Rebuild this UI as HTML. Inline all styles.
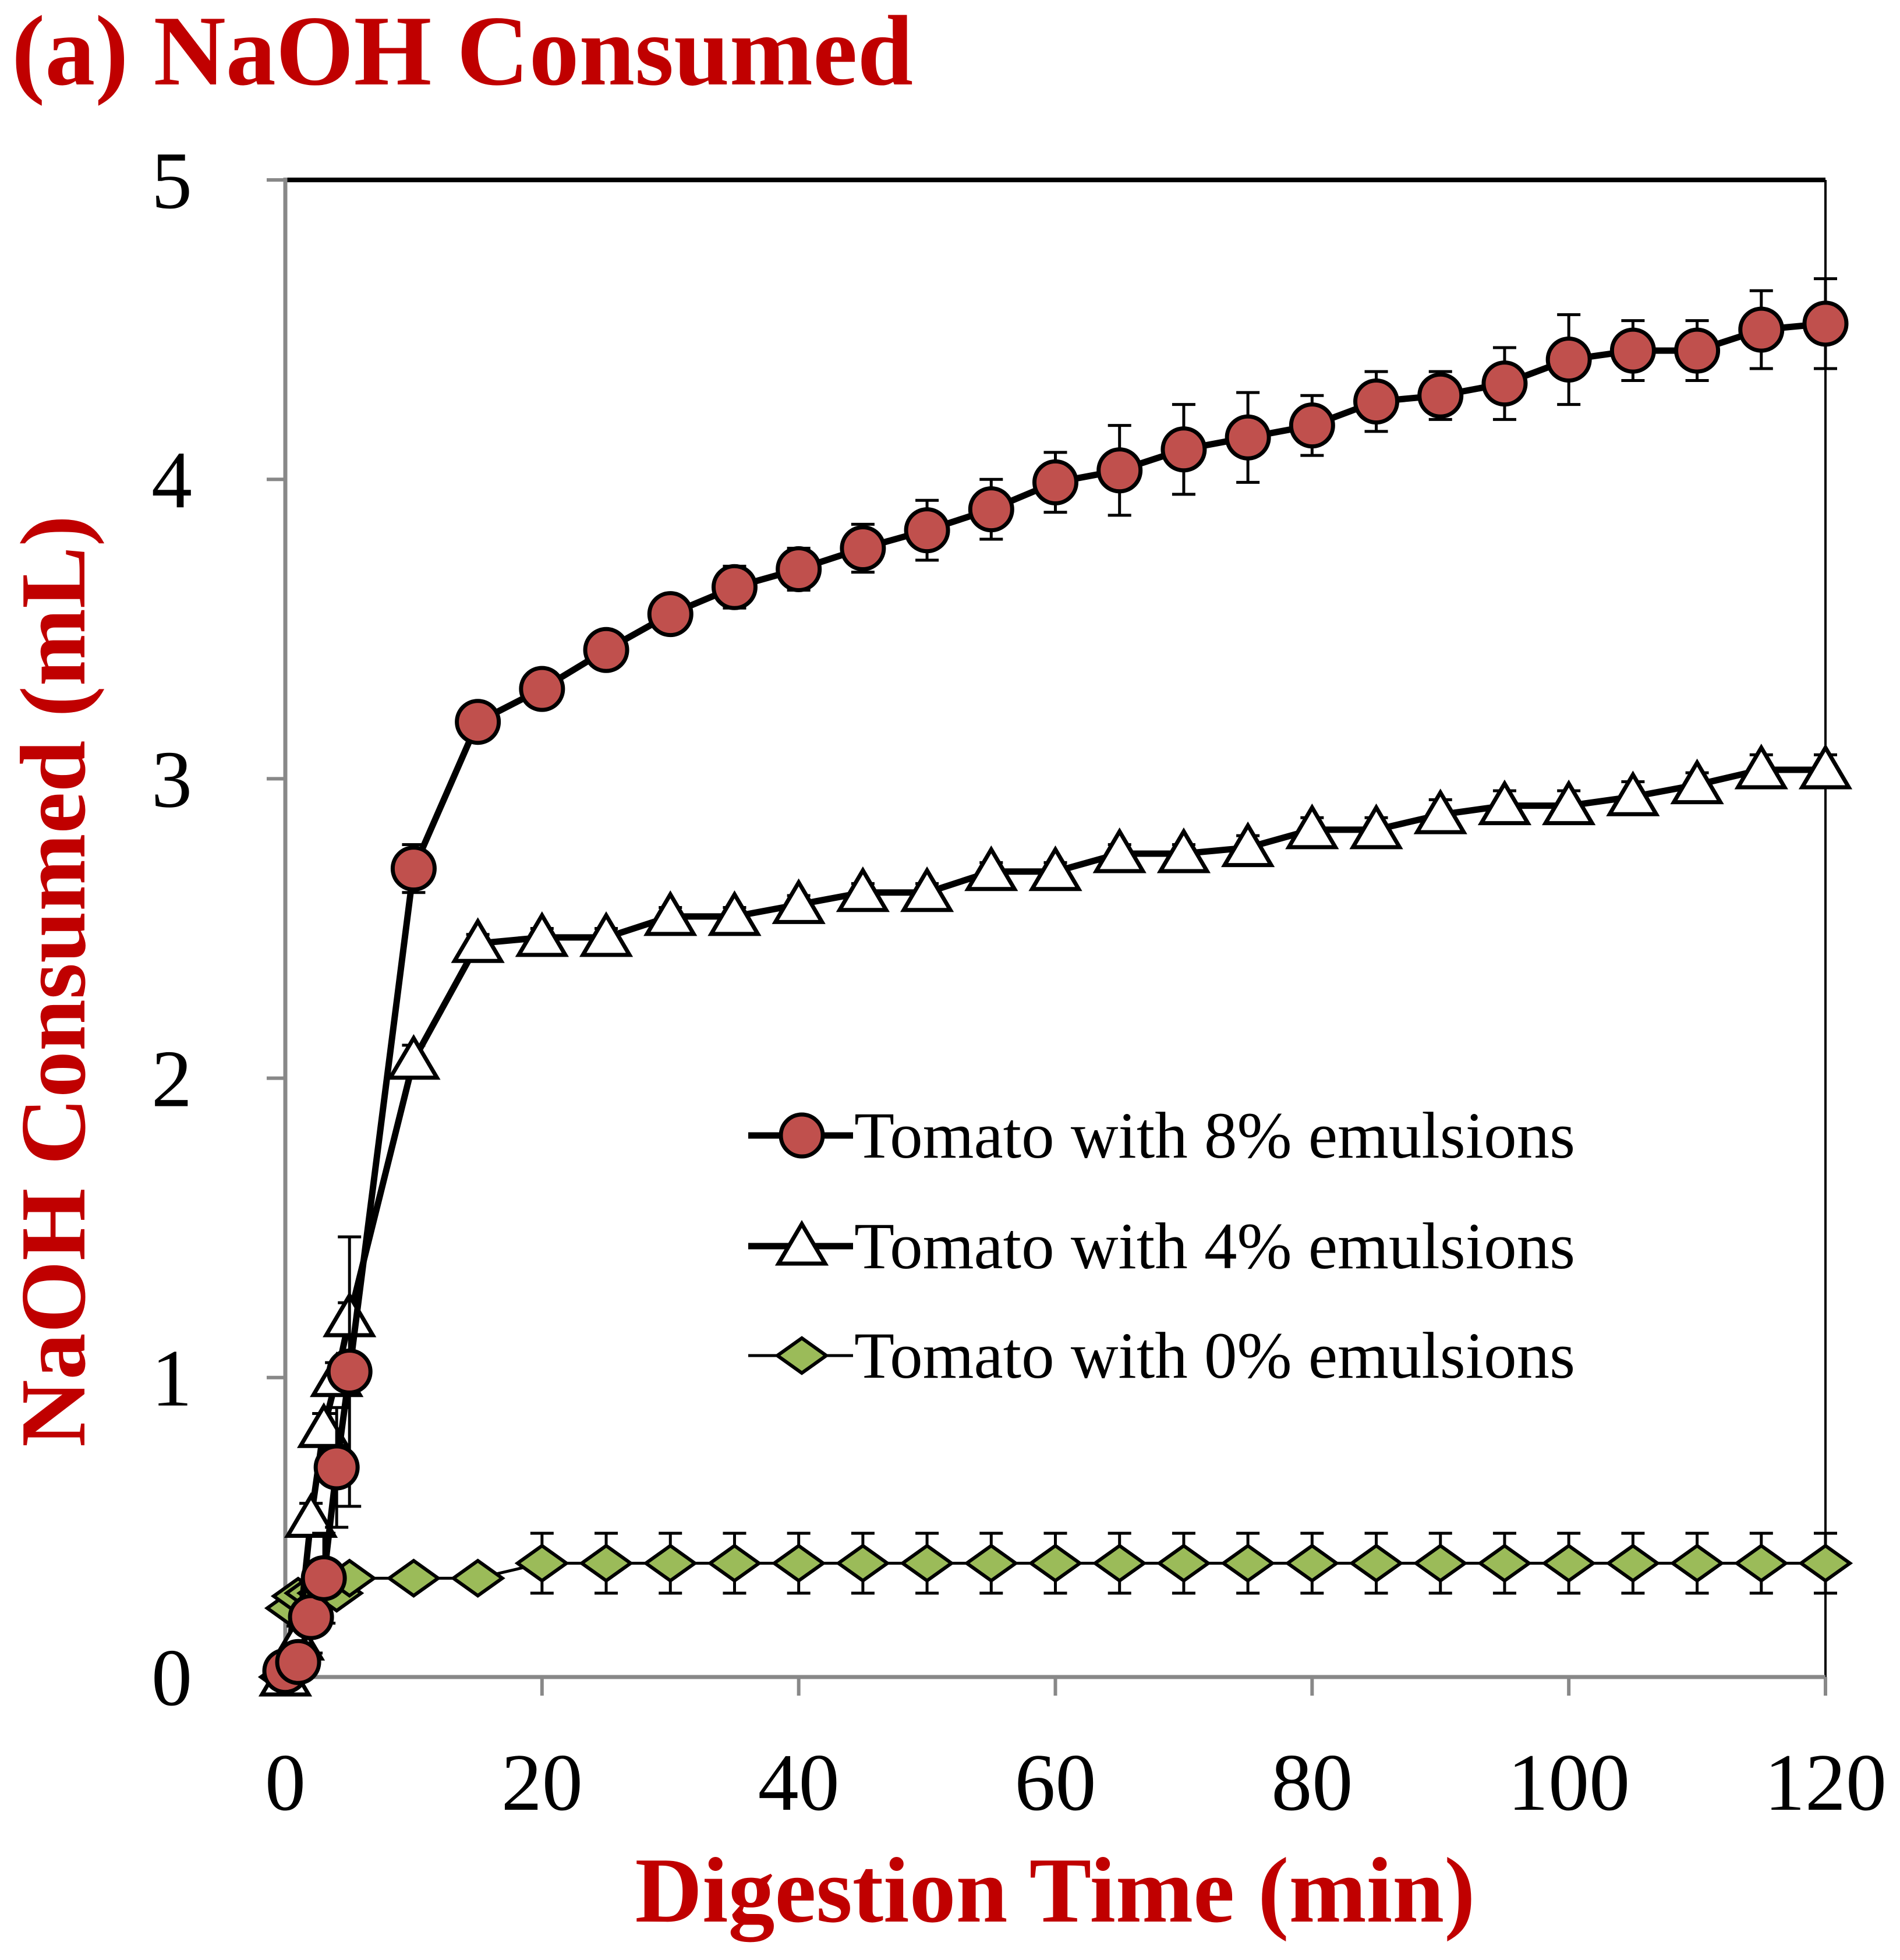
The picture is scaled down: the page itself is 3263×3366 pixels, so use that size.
<!DOCTYPE html>
<html><head><meta charset="utf-8"><style>
html,body{margin:0;padding:0;background:#fff;}
svg{display:block;}
</style></head><body>
<svg id="chart" width="3263" height="3366" viewBox="0 0 3263 3366" xmlns="http://www.w3.org/2000/svg" font-family="Liberation Serif, serif">
<text x="20" y="145" font-size="172" font-weight="bold" fill="#c00000">(a) NaOH Consumed</text>
<rect x="490" y="309" width="2645" height="2571" fill="#fff" stroke="none"/>
<line x1="490" y1="309" x2="3135" y2="309" stroke="#000" stroke-width="8"/>
<line x1="3135" y1="309" x2="3135" y2="2880" stroke="#000" stroke-width="4"/>
<line x1="490" y1="305" x2="490" y2="2884" stroke="#888" stroke-width="7"/>
<line x1="486" y1="2880" x2="3135" y2="2880" stroke="#888" stroke-width="7"/>
<g id="ticks"></g>
<g id="series"></g>
<text x="1812" y="3300" font-size="160" font-weight="bold" fill="#c00000" text-anchor="middle">Digestion Time (min)</text>
<text transform="translate(145,1685) rotate(-90)" font-size="160" font-weight="bold" fill="#c00000" text-anchor="middle">NaOH Consumed (mL)</text>
<g id="legend"></g>
</svg>
<script>
const xTicks=[0,20,40,60,80,100,120];
const yTicks=[0,1,2,3,4,5];
const t8=[0,1,2,3,4,5,10,15,20,25,30,35,40,45,50,55,60,65,70,75,80,85,90,95,100,105,110,115,120];
const v8=[0.02,0.05,0.2,0.33,0.7,1.02,2.7,3.19,3.3,3.43,3.55,3.64,3.7,3.77,3.83,3.9,3.99,4.03,4.1,4.14,4.18,4.26,4.28,4.32,4.4,4.43,4.43,4.5,4.52];
const e8=[0.02,0.05,0.12,0.15,0.2,0.45,0.08,0.03,0.03,0.03,0.05,0.07,0.07,0.08,0.1,0.1,0.1,0.15,0.15,0.15,0.1,0.1,0.08,0.12,0.15,0.1,0.1,0.13,0.15];
const t4=[0,1,2,3,4,5,10,15,20,25,30,35,40,45,50,55,60,65,70,75,80,85,90,95,100,105,110,115,120];
const v4=[0,0.12,0.53,0.83,1.0,1.2,2.06,2.45,2.47,2.47,2.54,2.54,2.58,2.62,2.62,2.69,2.69,2.75,2.75,2.77,2.83,2.83,2.88,2.91,2.91,2.94,2.98,3.03,3.03];
const e4=[0.02,0.05,0.05,0.05,0.05,0.05,0.05,0.03,0.03,0.03,0.03,0.03,0.03,0.03,0.03,0.03,0.03,0.03,0.03,0.04,0.04,0.04,0.05,0.05,0.05,0.05,0.04,0.05,0.05];
const t0=[0,0.5,1,2,3,4,5,10,15,20,25,30,35,40,45,50,55,60,65,70,75,80,85,90,95,100,105,110,115,120];
const v0=[0.0,0.23,0.27,0.28,0.28,0.28,0.33,0.33,0.33,0.38,0.38,0.38,0.38,0.38,0.38,0.38,0.38,0.38,0.38,0.38,0.38,0.38,0.38,0.38,0.38,0.38,0.38,0.38,0.38,0.38];
const e0=[0,0.02,0.02,0.02,0.02,0.02,0.03,0.03,0.03,0.1,0.1,0.1,0.1,0.1,0.1,0.1,0.1,0.1,0.1,0.1,0.1,0.1,0.1,0.1,0.1,0.1,0.1,0.1,0.1,0.1];
const legendLabels=["Tomato with 8% emulsions","Tomato with 4% emulsions","Tomato with 0% emulsions"];

const NS="http://www.w3.org/2000/svg";
const X=v=>490+v*(3135-490)/120;
const Y=v=>2880-v*(2880-309)/5;
function mk(tag,attrs,parent){const e=document.createElementNS(NS,tag);for(const k in attrs)e.setAttribute(k,attrs[k]);parent.appendChild(e);return e;}
const ticks=document.getElementById('ticks');
xTicks.forEach(v=>{
  const l=mk('line',{x1:X(v),y1:2880,x2:X(v),y2:2912,stroke:'#888','stroke-width':6},ticks);
  
  
  const t=mk('text',{x:X(v),y:3108,'font-size':140,'text-anchor':'middle',fill:'#000'},ticks);
  t.textContent=v;
  
  
});
yTicks.forEach(v=>{
  const l=mk('line',{x1:458,y1:Y(v),x2:490,y2:Y(v),stroke:'#888','stroke-width':6},ticks);
  
  
  const t=mk('text',{x:330,y:Y(v)+48,'font-size':140,'text-anchor':'end',fill:'#000'},ticks);
  t.textContent=v;
  
  
});
function marker(type,cx,cy,parent){
  let m;
  if(type==='circle') m=mk('circle',{cx:cx,cy:cy,r:36,fill:'#c0504d',stroke:'#000','stroke-width':7},parent);
  else if(type==='tri') m=mk('polygon',{points:`${cx},${cy-38} ${cx+40},${cy+30} ${cx-40},${cy+30}`,fill:'#fff',stroke:'#000','stroke-width':7},parent);
  else m=mk('polygon',{points:`${cx},${cy-30} ${cx+42},${cy} ${cx},${cy+30} ${cx-42},${cy}`,fill:'#9bbb59',stroke:'#000','stroke-width':6},parent);
  return m;
}
const seriesG=document.getElementById('series');
function drawSeries(name,ts,vs,es,type,lw){
  const g=mk('g',{},seriesG);
  
  
  ts.forEach((t,i)=>{
    if(es[i]<=0) return;
    const x=X(t);
    const eb=mk('path',{d:`M${x},${Y(vs[i]+es[i])}V${Y(vs[i]-es[i])}M${x-20},${Y(vs[i]+es[i])}H${x+20}M${x-20},${Y(vs[i]-es[i])}H${x+20}`,stroke:'#000','stroke-width':5,fill:'none'},g);
    
    
  });
  const line=mk('polyline',{points:ts.map((t,i)=>X(t)+','+Y(vs[i])).join(' '),fill:'none',stroke:'#000','stroke-width':lw,'stroke-linejoin':'round'},g);
  
  
  ts.forEach((t,i)=>{
    const m=marker(type,X(t),Y(vs[i]),g);
    
    
  });
}
drawSeries('series-0pct',t0,v0,e0,'dia',5);
drawSeries('series-4pct',t4,v4,e4,'tri',11);
drawSeries('series-8pct',t8,v8,e8,'circle',11);
const leg=document.getElementById('legend');
const types=['circle','tri','dia'], lws=[11,11,5], ly=[1950,2140,2328];
legendLabels.forEach((lab,i)=>{
  const g=mk('g',{},leg);
  
  
  mk('line',{x1:1285,y1:ly[i],x2:1465,y2:ly[i],stroke:'#000','stroke-width':lws[i]},g);
  marker(types[i],1377,ly[i],g);
  const t=mk('text',{x:1467,y:ly[i]+38,'font-size':113,fill:'#000'},g);
  t.textContent=lab;
});
</script>
</body></html>
